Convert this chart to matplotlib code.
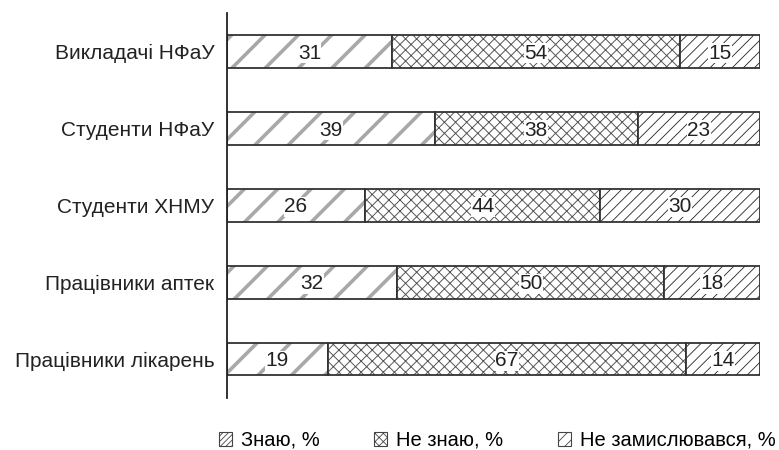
# stacked horizontal bars: awareness survey by group

import matplotlib
matplotlib.use('Agg')
import matplotlib.pyplot as plt
from matplotlib.patches import Patch

plt.rcParams['font.family'] = ['Liberation Sans', 'DejaVu Sans']

groups = ['Викладачі НФаУ', 'Студенти НФаУ', 'Студенти ХНМУ',
          'Працівники аптек', 'Працівники лікарень']
know = [31, 39, 26, 32, 19]
dont_know = [54, 38, 44, 50, 67]
not_thought = [15, 23, 30, 18, 14]
series_names = ['Знаю, %', 'Не знаю, %', 'Не замислювався, %']

# hatch, hatch colour, hatch linewidth per series
styles = [('/', '#a8a8a8', 2.6), ('xxx', '#555555', 0.7), ('///', '#222222', 0.6)]
legend_hatches = ['//////', 'xxxx', '///']


def main():
    fig = plt.figure(figsize=(7.79, 4.5), dpi=100)
    ax = fig.add_axes([0.291, 0.116, 0.685, 0.855])

    y = list(range(len(groups)))
    left = [0] * len(groups)
    for vals, (hatch, hcol, hlw) in zip([know, dont_know, not_thought], styles):
        with plt.rc_context({'hatch.linewidth': hlw}):
            bars = ax.barh(y, vals, left=left, height=0.42, color='white',
                           edgecolor=hcol, hatch=hatch, linewidth=0)
            for b in bars:
                if hasattr(b, 'set_hatch_linewidth'):
                    b.set_hatch_linewidth(hlw)
        ax.barh(y, vals, left=left, height=0.42, fill=False,
                edgecolor='#333333', linewidth=1.3)
        for yi, l, v in zip(y, left, vals):
            ax.text(l + v / 2, yi + 0.02, str(v), ha='center', va='center', fontsize=15,
                    color='#222222',
                    bbox=dict(facecolor='white', edgecolor='none', pad=0.3))
        left = [a + b for a, b in zip(left, vals)]

    ax.set_xlim(0, 100)
    ax.set_ylim(len(groups) - 0.5, -0.5)
    ax.set_yticks(y)
    ax.set_yticklabels(groups, fontsize=15, color='#222222')
    ax.tick_params(axis='y', length=0, pad=9)
    ax.set_xticks([])
    for s in ['top', 'right', 'bottom']:
        ax.spines[s].set_visible(False)
    ax.spines['left'].set_linewidth(1.3)
    ax.spines['left'].set_color('#222222')

    handles = []
    for name, h in zip(series_names, legend_hatches):
        handles.append(Patch(facecolor='white', edgecolor='#444444', hatch=h,
                             linewidth=0.8, label=name))
    with plt.rc_context({'hatch.linewidth': 0.6}):
        fig.legend(handles=handles, loc='lower center', bbox_to_anchor=(0.638, -0.04),
                   ncol=3, frameon=False, fontsize=14.5, columnspacing=2.7,
                   handlelength=0.65, handleheight=0.65, handletextpad=0.45)

    fig.savefig('out.png', dpi=100)


main()
